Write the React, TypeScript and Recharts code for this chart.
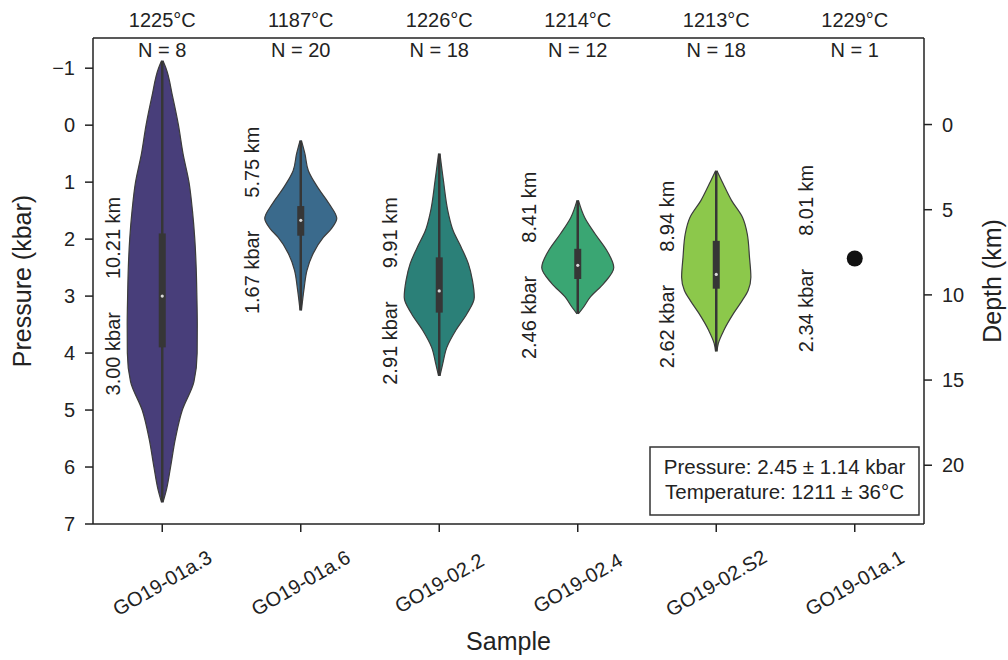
import React from 'react'
import { ComposedChart, Area, XAxis, YAxis, Scatter, ReferenceLine, ReferenceDot, Customized } from 'recharts'

// Samples, bottom to top labels
const SAMPLES = ['GO19-01a.3', 'GO19-01a.6', 'GO19-02.2', 'GO19-02.4', 'GO19-02.S2', 'GO19-01a.1']
const TEMPERATURES = [1225, 1187, 1226, 1214, 1213, 1229]
const COUNTS = [8, 20, 18, 12, 18, 1]
const MEDIANS = [3.0, 1.67, 2.91, 2.46, 2.62, 2.34]
const DEPTHS = [10.21, 5.75, 9.91, 8.41, 8.94, 8.01]
const Q1 = [1.9, 1.42, 2.32, 2.17, 2.03]
const Q3 = [3.9, 1.94, 3.29, 2.7, 2.87]
const MIN_P = [-1.13, 0.27, 0.5, 1.32, 0.8]
const MAX_P = [6.62, 3.25, 4.4, 3.31, 3.97]

// viridis (desaturated) as in the figure
const COLORS = ['#483e7a', '#3a6a8c', '#2b8078', '#3aa673', '#8cc84b']

// violin outlines: pressure (kbar) and half width (in sample units)
const V1_P = [-1.13, -1.0, -0.5, 0, 0.5, 1, 1.5, 2, 2.5, 3, 3.5, 4, 4.5, 5, 5.5, 6, 6.4, 6.62]
const V1_W = [0.005, 0.027, 0.075, 0.117, 0.15, 0.193, 0.218, 0.235, 0.245, 0.25, 0.253, 0.252, 0.229, 0.145, 0.095, 0.06, 0.03, 0.005]
const V2_P = [0.27, 0.5, 0.8, 1.1, 1.38, 1.64, 1.82, 1.97, 2.25, 2.55, 2.85, 3.25]
const V2_W = [0.005, 0.03, 0.055, 0.125, 0.205, 0.26, 0.22, 0.163, 0.09, 0.045, 0.025, 0.005]
const V3_P = [0.5, 0.97, 1.55, 1.85, 2.15, 2.43, 2.73, 3.02, 3.31, 3.6, 3.9, 4.19, 4.4]
const V3_W = [0.005, 0.03, 0.066, 0.1, 0.16, 0.21, 0.24, 0.253, 0.2, 0.12, 0.055, 0.025, 0.005]
const V4_P = [1.32, 1.62, 1.91, 2.2, 2.5, 2.78, 3.02, 3.2, 3.31]
const V4_W = [0.005, 0.05, 0.126, 0.21, 0.26, 0.187, 0.09, 0.04, 0.005]
const V5_P = [0.8, 1.03, 1.32, 1.62, 1.91, 2.32, 2.67, 2.9, 3.08, 3.3, 3.6, 3.83, 3.97]
const V5_W = [0.005, 0.05, 0.11, 0.19, 0.224, 0.24, 0.25, 0.23, 0.187, 0.126, 0.055, 0.015, 0.005]

const PROFILES = [
  { p: V1_P, w: V1_W },
  { p: V2_P, w: V2_W },
  { p: V3_P, w: V3_W },
  { p: V4_P, w: V4_W },
  { p: V5_P, w: V5_W },
]

const PRESSURE_TICKS = [-1, 0, 1, 2, 3, 4, 5, 6, 7]
const DEPTH_TICKS = [0, 5, 10, 15, 20]
const SAMPLE_TICKS = [0, 1, 2, 3, 4, 5]

const SUMMARY_PRESSURE = '2.45 ± 1.14'
const SUMMARY_TEMPERATURE = '1211 ± 36'

const FONT = '"Liberation Sans", Arial, Helvetica, sans-serif'
const INK = '#222'

// one row per pressure level, a [left, right] range per violin
const pressures = Array.from(new Set(PROFILES.flatMap((v) => v.p))).sort((a, b) => a - b)
const violinData = pressures.map((p) => {
  const row: any = { p }
  PROFILES.forEach((v, i) => {
    const k = v.p.indexOf(p)
    row[`v${i}`] = k >= 0 ? [i - v.w[k], i + v.w[k]] : [null, null]
  })
  return row
})

const annotationData = SAMPLES.map((_, i) => ({ x: i - 0.355, p: MEDIANS[i], kbar: MEDIANS[i], km: DEPTHS[i] }))
const singleData = [{ x: 5, p: MEDIANS[5] }]

const SampleTick = (props: any) => {
  const { x, y, payload } = props
  const cy = y + 51
  return (
    <text x={x} y={cy} transform={`rotate(-30 ${x} ${cy})`} textAnchor="middle" dominantBaseline="central" fontSize={20} fill={INK}>
      {SAMPLES[payload.value]}
    </text>
  )
}

const TopTick = (props: any) => {
  const { x, y, payload } = props
  const i = payload.value
  return (
    <g>
      <text x={x} y={y - 11} textAnchor="middle" fontSize={20} fill={INK}>{TEMPERATURES[i]}°C</text>
      <text x={x} y={y + 19} textAnchor="middle" fontSize={20} fill={INK}>N = {COUNTS[i]}</text>
    </g>
  )
}

const AnnotationShape = (props: any) => {
  const { cx, cy, payload } = props
  return (
    <text x={cx} y={cy} transform={`rotate(-90 ${cx} ${cy})`} textAnchor="middle" dominantBaseline="central" fontSize={20} fill={INK}>
      <tspan>{payload.kbar.toFixed(2)} kbar</tspan>
      <tspan dx={33}>{payload.km.toFixed(2)} km</tspan>
    </text>
  )
}

const DotShape = (props: any) => <circle cx={props.cx} cy={props.cy} r={8} fill="#111" />

const SummaryBox = () => (
  <g>
    <rect x={650} y={447} width={269} height={68} fill="#fff" stroke="#333" strokeWidth={1.5} />
    <text x={784.5} y={474} textAnchor="middle" fontSize={20.5} fill={INK}>Pressure: {SUMMARY_PRESSURE} kbar</text>
    <text x={784.5} y={499} textAnchor="middle" fontSize={20.5} fill={INK}>Temperature: {SUMMARY_TEMPERATURE}°C</text>
  </g>
)

const fmtPressure = (v: number) => (v < 0 ? `\u2212${Math.abs(v)}` : `${v}`)

export default function App() {
  const axisLine = { stroke: INK, strokeWidth: 1.5 }
  return (
    <div style={{ width: 1008, height: 660, background: '#fff' }}>
      <style>{'body{margin:0}'}</style>
      <ComposedChart
        width={1008}
        height={660}
        layout="vertical"
        data={violinData}
        margin={{ top: 8, right: 24, bottom: 36, left: 33 }}
        style={{ fontFamily: FONT }}
      >
        <XAxis
          type="number"
          dataKey="x"
          domain={[-0.5, 5.5]}
          ticks={SAMPLE_TICKS}
          allowDataOverflow
          height={100}
          axisLine={axisLine}
          tickLine={axisLine}
          tickSize={8}
          tickMargin={0}
          tick={<SampleTick />}
          interval={0}
          label={({ viewBox }: any) => (
            <text x={viewBox.x + viewBox.width / 2} y={viewBox.y + 126} textAnchor="middle" fontSize={25} fill={INK}>Sample</text>
          )}
        />
        <XAxis
          xAxisId="top"
          orientation="top"
          type="number"
          dataKey="x"
          domain={[-0.5, 5.5]}
          ticks={SAMPLE_TICKS}
          allowDataOverflow
          height={30}
          axisLine={axisLine}
          tickLine={false}
          tickSize={0}
          tickMargin={0}
          tick={<TopTick />}
          interval={0}
        />
        <YAxis
          type="number"
          dataKey="p"
          domain={[-1.53, 7]}
          ticks={PRESSURE_TICKS}
          allowDataOverflow
          width={60}
          axisLine={axisLine}
          tickLine={axisLine}
          tickSize={8}
          tickMargin={10}
          tick={{ fill: INK, fontSize: 20 }}
          tickFormatter={fmtPressure}
          interval={0}
          label={({ viewBox }: any) => {
            const cx = viewBox.x - 11
            const cy = viewBox.y + viewBox.height / 2
            return (
              <text x={cx} y={cy} transform={`rotate(-90 ${cx} ${cy})`} textAnchor="middle" dominantBaseline="central" fontSize={25} fill={INK}>Pressure (kbar)</text>
            )
          }}
        />
        <YAxis
          yAxisId="depth"
          orientation="right"
          type="number"
          dataKey="p"
          domain={[-5.08, 23.45]}
          ticks={DEPTH_TICKS}
          allowDataOverflow
          width={60}
          axisLine={axisLine}
          tickLine={axisLine}
          tickSize={8}
          tickMargin={10}
          tick={{ fill: INK, fontSize: 20 }}
          interval={0}
          label={({ viewBox }: any) => {
            const cx = viewBox.x + 68
            const cy = viewBox.y + viewBox.height / 2
            return (
              <text x={cx} y={cy} transform={`rotate(-90 ${cx} ${cy})`} textAnchor="middle" dominantBaseline="central" fontSize={25} fill={INK}>Depth (km)</text>
            )
          }}
        />

        {PROFILES.map((_, i) => (
          <Area
            key={`violin-${i}`}
            dataKey={`v${i}`}
            type="monotone"
            fill={COLORS[i]}
            fillOpacity={1}
            stroke="#3c3c3c"
            strokeWidth={1.2}
            connectNulls
            dot={false}
            activeDot={false}
            isAnimationActive={false}
          />
        ))}

        {MIN_P.map((lo, i) => (
          <ReferenceLine
            key={`whisker-${i}`}
            segment={[{ x: i, y: lo }, { x: i, y: MAX_P[i] }]}
            stroke="#363636"
            strokeWidth={2.5}
          />
        ))}
        {Q1.map((lo, i) => (
          <ReferenceLine
            key={`iqr-${i}`}
            segment={[{ x: i, y: lo }, { x: i, y: Q3[i] }]}
            stroke="#363636"
            strokeWidth={7}
          />
        ))}
        {Q1.map((_, i) => (
          <ReferenceDot key={`median-${i}`} x={i} y={MEDIANS[i]} r={1.6} fill="#d8d8d8" stroke="none" />
        ))}

        <Scatter data={singleData} shape={<DotShape />} isAnimationActive={false} />
        <Scatter data={annotationData} shape={<AnnotationShape />} isAnimationActive={false} />
        <Customized component={SummaryBox} />
      </ComposedChart>
    </div>
  )
}
